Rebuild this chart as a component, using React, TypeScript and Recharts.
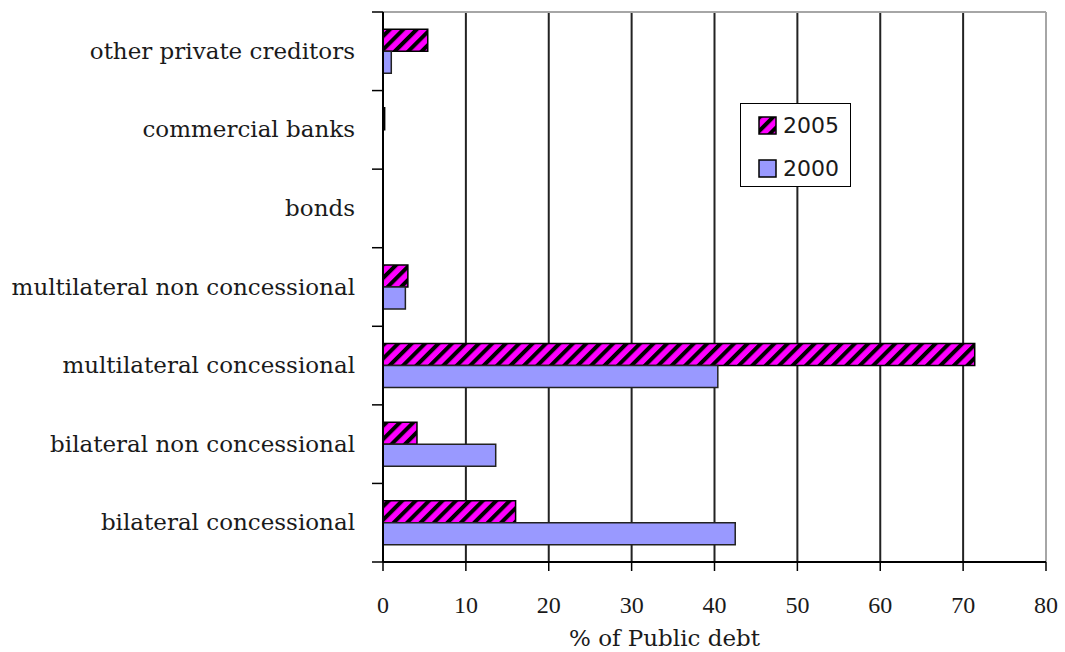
import React from "react";
import {
  BarChart, Bar, XAxis, YAxis, CartesianGrid,
} from "recharts";

const categories = [
  "other private creditors",
  "commercial banks",
  "bonds",
  "multilateral non concessional",
  "multilateral concessional",
  "bilateral non concessional",
  "bilateral concessional",
];
const values2005 = [5.4, 0.2, 0, 3.0, 71.4, 4.1, 16.0];
const values2000 = [1.0, 0, 0, 2.7, 40.4, 13.6, 42.5];
const xTicks = [0, 10, 20, 30, 40, 50, 60, 70, 80];
const legendItems = [
  { label: "2005", hatch: true },
  { label: "2000", hatch: false },
];

const W = 1065;
const H = 652;
const MARGIN = { top: 12, right: 19, bottom: 0, left: 0 };
const X_AXIS_H = 90;
const PLOT_H = H - MARGIN.top - MARGIN.bottom - X_AXIS_H;
const BAND = PLOT_H / categories.length;

const data = categories.map((name, i) => ({
  name,
  v2005: values2005[i],
  v2000: values2000[i],
}));

function HatchDefs({ id }: { id: string }) {
  return (
    <defs>
      <pattern id={id} patternUnits="userSpaceOnUse" width={9.5} height={9.5} patternTransform="rotate(45)">
        <rect width={9.5} height={9.5} fill="#ff00ff" />
        <rect width={4} height={9.5} fill="#000" />
      </pattern>
    </defs>
  );
}

function CategoryTick(props: any) {
  const { x, y, payload, index } = props;
  const last = index === categories.length - 1;
  return (
    <g>
      <line x1={x + 17} x2={x + 28} y1={y - BAND / 2} y2={y - BAND / 2} stroke="#000" strokeWidth={1.5} />
      {last && (
        <line x1={x + 17} x2={x + 28} y1={y + BAND / 2} y2={y + BAND / 2} stroke="#000" strokeWidth={1.5} />
      )}
      <text x={x} y={y} dy="0.33em" textAnchor="end" fill="#1a1a1a"
        style={{ fontFamily: "DejaVu Serif", fontSize: 23 }}>
        {payload.value}
      </text>
    </g>
  );
}

function AxisTitle(props: any) {
  const vb = props.viewBox || { x: 383, y: 562, width: 663, height: 90 };
  return (
    <text x={vb.x + vb.width / 2 - 50} y={vb.y + vb.height - 6} textAnchor="middle" fill="#1a1a1a"
      style={{ fontFamily: "DejaVu Serif", fontSize: 23 }}>
      % of Public debt
    </text>
  );
}

function LegendBox() {
  return (
    <div style={{
      position: "absolute", left: 740, top: 103,
      width: 111, height: 84, border: "1.5px solid #000", background: "#fff",
      boxSizing: "border-box", paddingTop: 5,
    }}>
      {legendItems.map((it) => (
        <div key={it.label} style={{ display: "flex", alignItems: "center", height: 32, marginBottom: 11, paddingLeft: 17 }}>
          <svg width={19} height={19} style={{ marginRight: 6 }}>
            {it.hatch && <HatchDefs id="legendHatch" />}
            <rect x={1} y={1} width={17} height={17}
              fill={it.hatch ? "url(#legendHatch)" : "#9999ff"} stroke="#000" strokeWidth={1.5} />
          </svg>
          <span style={{ fontFamily: "DejaVu Sans", fontSize: 22, color: "#1a1a1a" }}>{it.label}</span>
        </div>
      ))}
    </div>
  );
}

export default function App() {
  return (
    <div style={{ position: "absolute", left: 0, top: 0, width: W, height: H, background: "#fff" }}>
      <BarChart
        width={W}
        height={H}
        data={data}
        layout="vertical"
        margin={MARGIN}
        barCategoryGap="22%"
        barGap={0}
      >
        <HatchDefs id="hatch2005" />
        <CartesianGrid horizontal={false} stroke="#222" strokeWidth={2} />
        <CartesianGrid
          stroke="#a6a6a6"
          strokeWidth={2}
          horizontalCoordinatesGenerator={({ offset }: any) => [offset.top]}
          verticalCoordinatesGenerator={({ offset }: any) => [offset.left + offset.width]}
        />
        <XAxis
          type="number"
          domain={[0, 80]}
          ticks={xTicks}
          height={X_AXIS_H}
          axisLine={{ stroke: "#000", strokeWidth: 2 }}
          tickLine={{ stroke: "#000", strokeWidth: 1.5 }}
          tickSize={9}
          tickMargin={25}
          tick={{ fill: "#1a1a1a", fontSize: 24, fontFamily: "Liberation Serif" }}
          label={<AxisTitle />}
        />
        <YAxis
          type="category"
          dataKey="name"
          width={383}
          tickLine={false}
          tickSize={0}
          tickMargin={28}
          tick={<CategoryTick />}
          axisLine={{ stroke: "#000", strokeWidth: 2 }}
          interval={0}
        />
        <Bar dataKey="v2005" name="2005" fill="url(#hatch2005)" stroke="#000" strokeWidth={1.5} isAnimationActive={false} />
        <Bar dataKey="v2000" name="2000" fill="#9999ff" stroke="#222" strokeWidth={1.5} isAnimationActive={false} />
      </BarChart>
      <LegendBox />
    </div>
  );
}
